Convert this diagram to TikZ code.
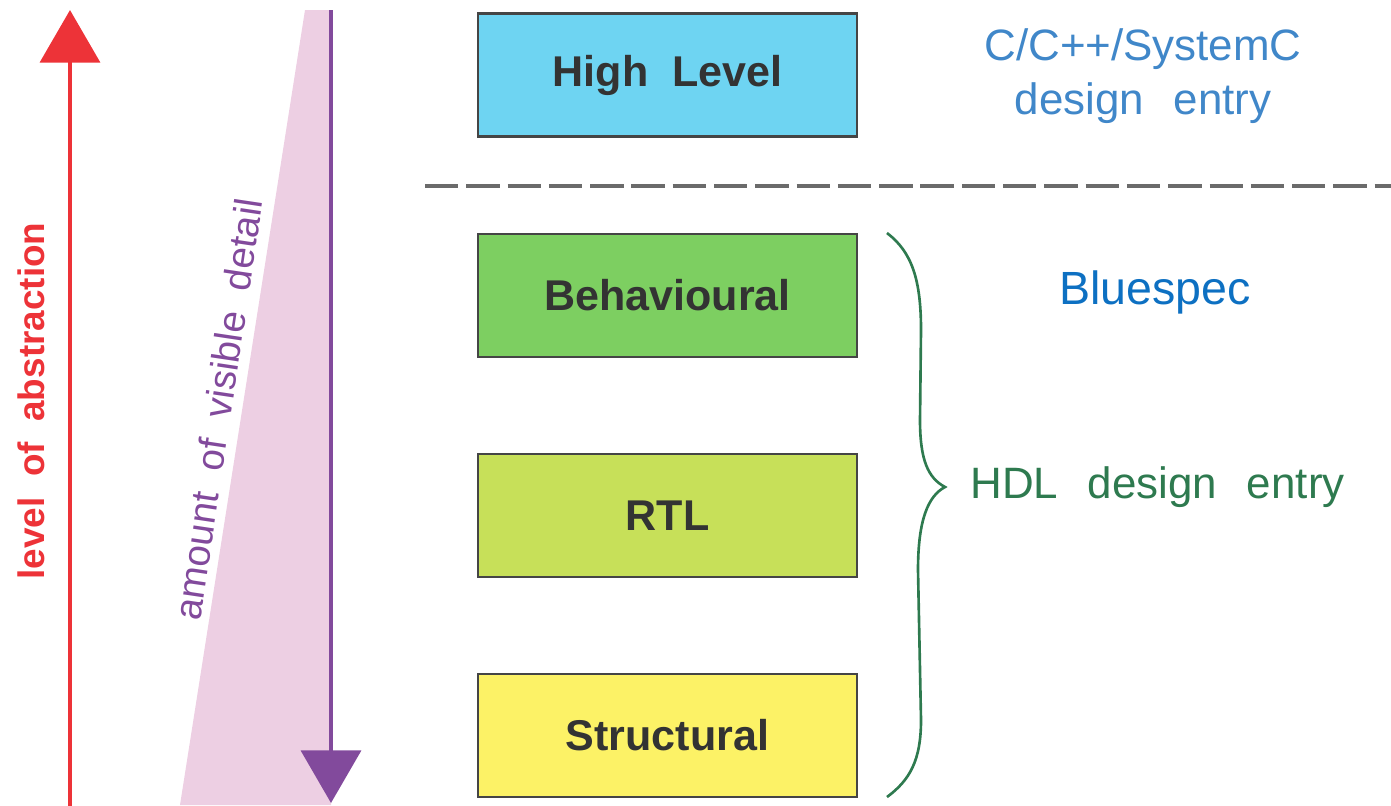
\documentclass[tikz,border=0pt]{standalone}
\usepackage{fontspec}
\setmainfont{Liberation Sans}
\usepackage{tikz}
\usetikzlibrary{arrows.meta}
\definecolor{absred}{rgb}{0.93, 0.20, 0.22}
\definecolor{detpurple}{rgb}{0.51, 0.29, 0.61}
\definecolor{detpink}{rgb}{0.93, 0.81, 0.89}
\definecolor{boxline}{rgb}{0.27, 0.27, 0.27}
\definecolor{boxtext}{rgb}{0.20, 0.20, 0.20}
\definecolor{hlcyan}{rgb}{0.43, 0.83, 0.95}
\definecolor{behgreen}{rgb}{0.49, 0.81, 0.38}
\definecolor{rtllime}{rgb}{0.78, 0.88, 0.35}
\definecolor{stryellow}{rgb}{0.99, 0.95, 0.40}
\definecolor{cblue}{rgb}{0.25, 0.53, 0.79}
\definecolor{bsblue}{rgb}{0.05, 0.44, 0.76}
\definecolor{hdlgreen}{rgb}{0.18, 0.48, 0.31}
\definecolor{sepgray}{rgb}{0.42, 0.42, 0.42}
\tikzstyle{level} = [draw=boxline, line width=1.4pt, minimum width=7.58cm, minimum height=2.46cm, text=boxtext, font=\fontsize{24.5}{28}\selectfont\bfseries]
\tikzstyle{bigarrow} = [line width=2.8pt, -{Triangle[length=30pt,width=34pt]}]
\tikzstyle{entry} = [inner sep=0pt, font=\fontsize{25}{30.6}\selectfont]
\newcommand{\wgap}{~~\hspace{3pt}}

\begin{document}
\begin{tikzpicture}[x=0.02cm, y=-0.02cm]
    \useasboundingbox (0,0) rectangle (1391,805);
    % abstraction and detail
    \fill[detpink] (305,10) -- (331,10) -- (331,805) -- (180,805) -- cycle;
    \draw[bigarrow, absred] (70,815) -- (70,10);
    \draw[bigarrow, detpurple] (331,10) -- (331,803);
    \node[rotate=90, text=absred, font=\fontsize{21}{25}\selectfont\bfseries] (abs) at (31,401) {level~~of~~abstraction};
    \node[rotate=81.5, text=detpurple, font=\fontsize{22}{26}\selectfont] (det) at (218,409) {amount~~of~~visible~~detail};
    % levels
    \node[level, fill=hlcyan] (hl) at (667.5,75) {High~~Level};
    \node[level, fill=behgreen] (beh) at (667.5,295.5) {Behavioural};
    \node[level, fill=rtllime] (rtl) at (667.5,515.5) {RTL};
    \node[level, fill=stryellow] (str) at (667.5,735.5) {Structural};
    \draw[sepgray, line width=2.1pt, dash pattern=on 19pt off 4.5pt] (425,186) -- (1391,186);
    % design entry
    \node[entry, text=cblue, align=center] (cpp) at (1143,76) {C/C++/SystemC\\design\wgap entry};
    \node[entry, text=bsblue, font=\fontsize{26.5}{30}\selectfont] (bsv) at (1155,292) {Bluespec};
    \draw[hdlgreen, line width=1.5pt] (887,233) .. controls (912,252) and (921,280) .. (921,330)
        -- (920,420) .. controls (920,460) and (928,478) .. (945,487)
        .. controls (928,496) and (918,520) .. (918,570)
        -- (921,720) .. controls (921,760) and (910,780) .. (887,797);
    \node[entry, text=hdlgreen, anchor=west] (hdl) at (970,487) {HDL\wgap design\wgap entry};
\end{tikzpicture}
\end{document}
